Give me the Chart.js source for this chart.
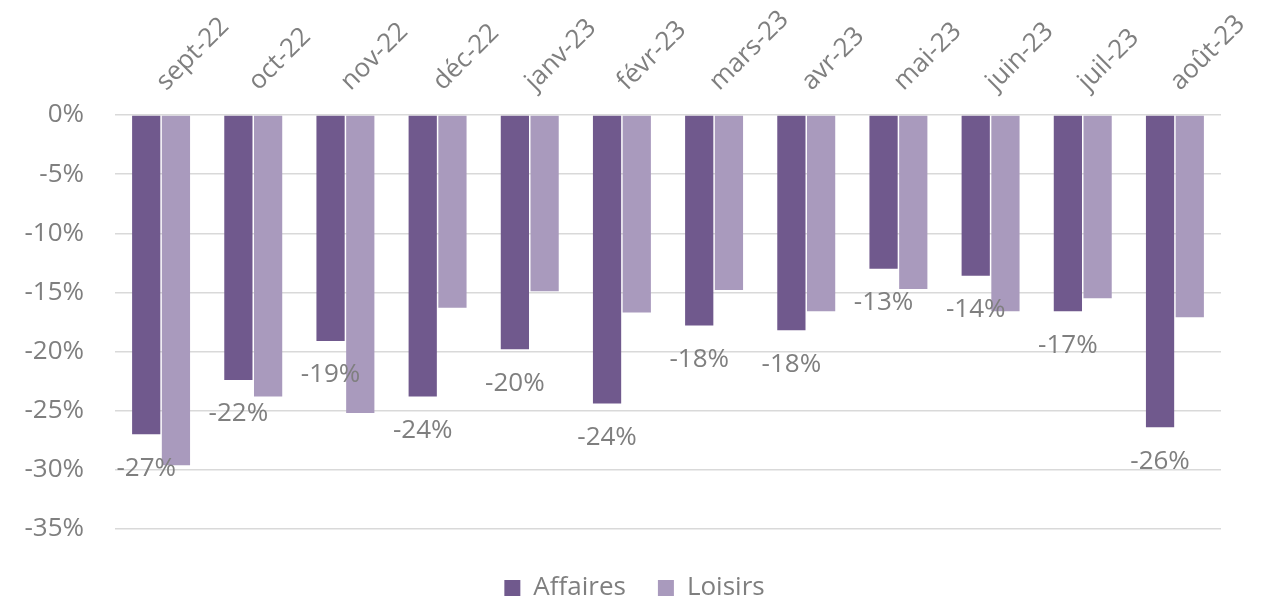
<!DOCTYPE html>
<html lang="fr">
<head>
<meta charset="utf-8">
<title>Affaires / Loisirs</title>
<script src="https://cdn.jsdelivr.net/npm/chart.js@4/dist/chart.umd.min.js"></script>
<style>
  html, body { margin: 0; padding: 0; background: #ffffff; }
  #wrap { width: 1274px; height: 600px; position: relative; }
</style>
</head>
<body>
<div id="wrap"><canvas id="c" width="1274" height="600"></canvas></div>
<script>
// Monthly change, in %
const months = ['sept-22', 'oct-22', 'nov-22', 'déc-22', 'janv-23', 'févr-23',
                'mars-23', 'avr-23', 'mai-23', 'juin-23', 'juil-23', 'août-23'];
const affaires = [-27.0, -22.4, -19.1, -23.8, -19.8, -24.4, -17.8, -18.2, -13.0, -13.6, -16.6, -26.4];
const loisirs  = [-29.6, -23.8, -25.2, -16.3, -14.9, -16.7, -14.8, -16.6, -14.7, -16.6, -15.5, -17.1];
const yTicks   = [0, -5, -10, -15, -20, -25, -30, -35];

const FONT = '"Open Sans", "DejaVu Sans", sans-serif';
const GREY = '#7f7f7f';

// Value labels under the ends of the "Affaires" bars
const valueLabels = {
  id: 'valueLabels',
  afterDatasetsDraw(chart) {
    const meta = chart.getDatasetMeta(0);
    const ctx = chart.ctx;
    ctx.save();
    ctx.font = '26px ' + FONT;
    ctx.fillStyle = GREY;
    ctx.textAlign = 'center';
    ctx.textBaseline = 'middle';
    meta.data.forEach((bar, i) => {
      const v = chart.data.datasets[0].data[i];
      ctx.fillText(Math.round(v) + '%', bar.x, bar.y + 34);
    });
    ctx.restore();
  }
};

// Place the legend a little lower and centred on the page, without shrinking the plot
const legendOffset = {
  id: 'legendOffset',
  afterLayout(chart) {
    const lg = chart.legend;
    if (lg) {
      lg.top += 14;
      lg.bottom += 14;
      lg.left += 24;
      lg.right += 24;
    }
  }
};

new Chart(document.getElementById('c'), {
  type: 'bar',
  data: {
    labels: months,
    datasets: [
      { label: 'Affaires', data: affaires, backgroundColor: '#70598d',
        categoryPercentage: 0.645, barPercentage: 0.95 },
      { label: 'Loisirs', data: loisirs, backgroundColor: '#a99abd',
        categoryPercentage: 0.645, barPercentage: 0.95 }
    ]
  },
  options: {
    responsive: false,
    animation: false,
    layout: { padding: { left: 0, right: 53, top: 0, bottom: 3 } },
    plugins: {
      legend: {
        position: 'bottom',
        labels: {
          boxWidth: 16, boxHeight: 16, padding: 32,
          color: GREY, font: { family: FONT, size: 26 }
        }
      },
      tooltip: { enabled: false }
    },
    scales: {
      x: {
        position: 'top',
        grid: { display: false },
        border: { display: false },
        ticks: {
          minRotation: 45, maxRotation: 45, padding: 10, labelOffset: 22,
          color: GREY, font: { family: FONT, size: 26 }
        },
        afterFit(scale) { scale.height = 115; }
      },
      y: {
        min: -35, max: 0,
        afterBuildTicks(scale) { scale.ticks = yTicks.map(v => ({ value: v })); },
        grid: { color: '#d9d9d9', lineWidth: 1.5, drawTicks: false },
        border: { display: false },
        ticks: {
          padding: 31, color: GREY, font: { family: FONT, size: 26 },
          callback: v => v + '%'
        },
        afterFit(scale) { scale.width = 115; }
      }
    }
  },
  plugins: [valueLabels, legendOffset]
});
</script>
</body>
</html>
